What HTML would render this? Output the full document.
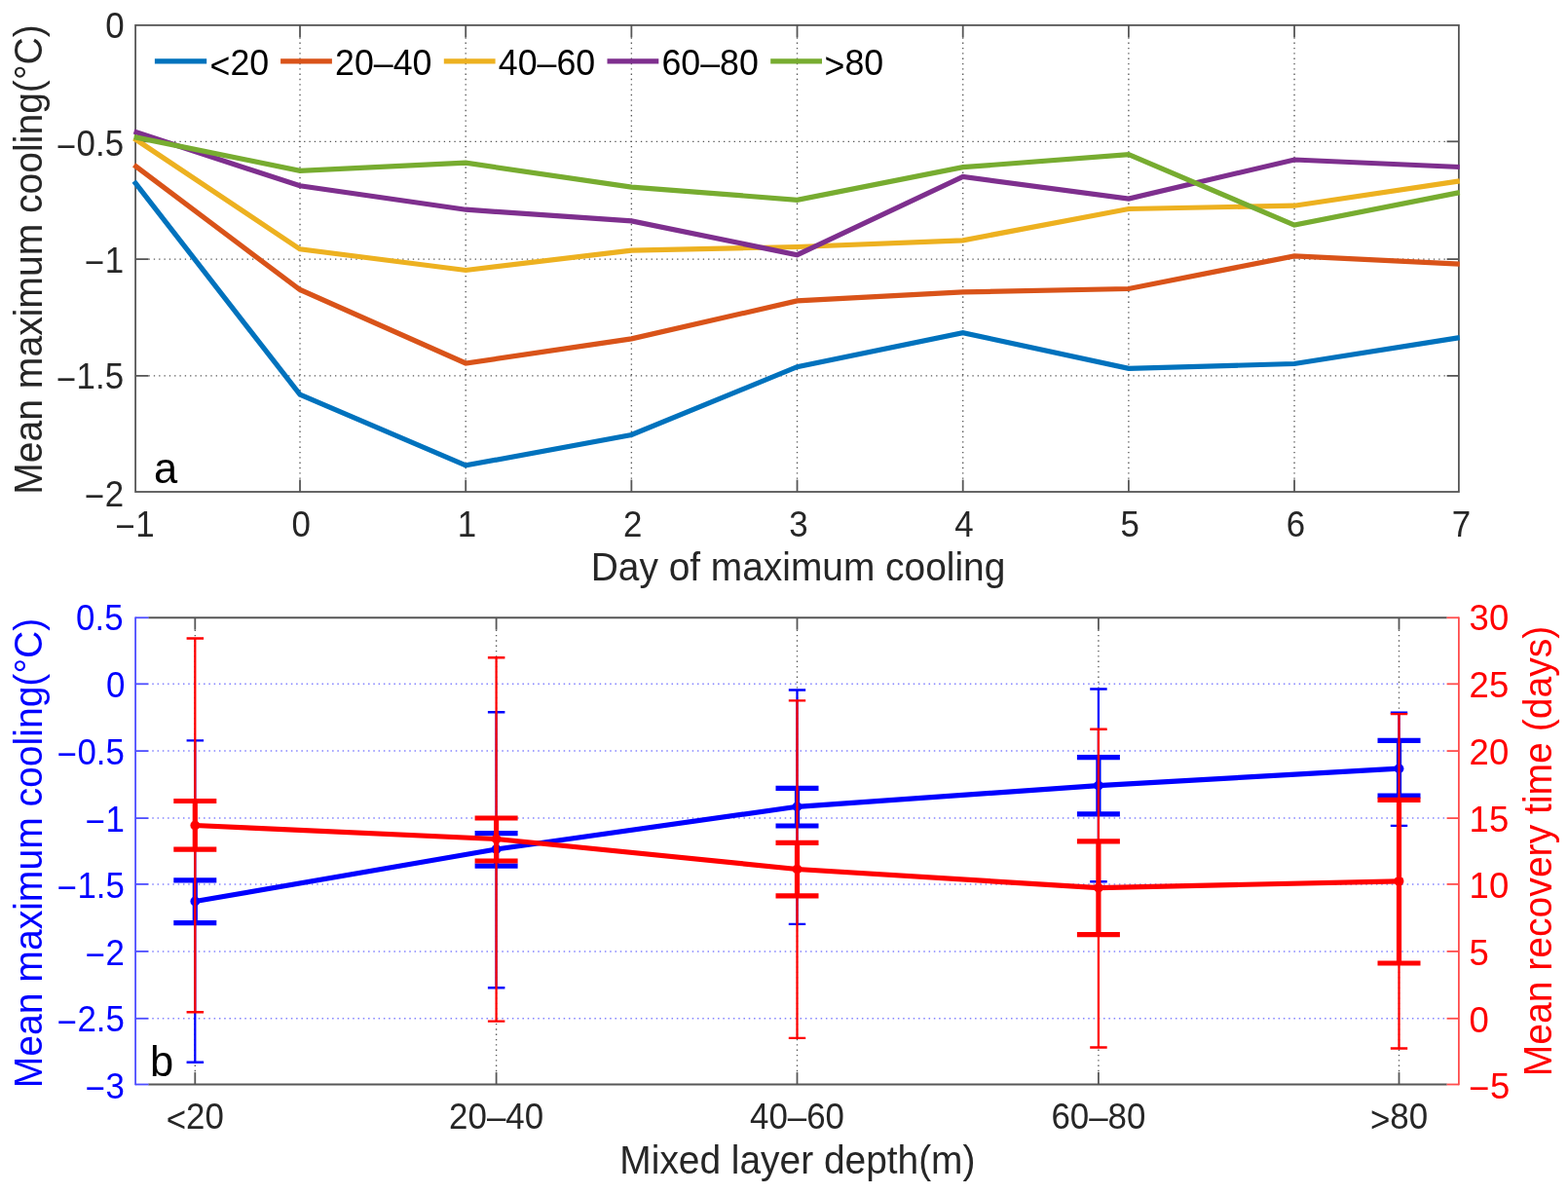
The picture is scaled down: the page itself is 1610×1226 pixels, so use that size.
<!DOCTYPE html>
<html lang="en"><head><meta charset="utf-8"><title>Mean maximum cooling and recovery time</title>
<style>
html,body{margin:0;padding:0;background:#fff;}
body{width:1610px;height:1226px;overflow:hidden;}
svg{display:block;filter:blur(0.6px);}
</style></head><body>
<svg width="1610" height="1226" viewBox="0 0 1610 1226">
<rect width="1610" height="1226" fill="#fff"/>
<g font-family="'Liberation Sans', Arial, Helvetica, sans-serif">
<g stroke="#585858" stroke-width="1.35" stroke-dasharray="1.35 3.97" fill="none">
<line x1="308.02" y1="38.30" x2="308.02" y2="492.60"/>
<line x1="478.19" y1="38.30" x2="478.19" y2="492.60"/>
<line x1="648.36" y1="38.30" x2="648.36" y2="492.60"/>
<line x1="818.53" y1="38.30" x2="818.53" y2="492.60"/>
<line x1="988.70" y1="38.30" x2="988.70" y2="492.60"/>
<line x1="1158.87" y1="38.30" x2="1158.87" y2="492.60"/>
<line x1="1329.04" y1="38.30" x2="1329.04" y2="492.60"/>
<line x1="152.50" y1="145.30" x2="1485.60" y2="145.30"/>
<line x1="152.50" y1="266.10" x2="1485.60" y2="266.10"/>
<line x1="152.50" y1="385.90" x2="1485.60" y2="385.90"/>
</g>
<g stroke="#565656" stroke-width="1.8" fill="none">
<rect x="139.1" y="25.9" width="1358.80" height="479.10"/>
<line x1="308.02" y1="505.0" x2="308.02" y2="492.60"/>
<line x1="308.02" y1="25.9" x2="308.02" y2="38.30"/>
<line x1="478.19" y1="505.0" x2="478.19" y2="492.60"/>
<line x1="478.19" y1="25.9" x2="478.19" y2="38.30"/>
<line x1="648.36" y1="505.0" x2="648.36" y2="492.60"/>
<line x1="648.36" y1="25.9" x2="648.36" y2="38.30"/>
<line x1="818.53" y1="505.0" x2="818.53" y2="492.60"/>
<line x1="818.53" y1="25.9" x2="818.53" y2="38.30"/>
<line x1="988.70" y1="505.0" x2="988.70" y2="492.60"/>
<line x1="988.70" y1="25.9" x2="988.70" y2="38.30"/>
<line x1="1158.87" y1="505.0" x2="1158.87" y2="492.60"/>
<line x1="1158.87" y1="25.9" x2="1158.87" y2="38.30"/>
<line x1="1329.04" y1="505.0" x2="1329.04" y2="492.60"/>
<line x1="1329.04" y1="25.9" x2="1329.04" y2="38.30"/>
<line x1="139.1" y1="145.30" x2="152.50" y2="145.30"/>
<line x1="1497.9" y1="145.30" x2="1485.60" y2="145.30"/>
<line x1="139.1" y1="266.10" x2="152.50" y2="266.10"/>
<line x1="1497.9" y1="266.10" x2="1485.60" y2="266.10"/>
<line x1="139.1" y1="385.90" x2="152.50" y2="385.90"/>
<line x1="1497.9" y1="385.90" x2="1485.60" y2="385.90"/>
</g>
<g fill="none" stroke-width="5.2" stroke-linejoin="miter">
<polyline stroke="#0072BD" points="137.6,186.1 308.0,405.2 478.2,477.9 648.4,446.5 818.5,376.7 988.7,341.7 1158.9,378.4 1329.0,373.5 1498.8,346.6"/>
<polyline stroke="#D95319" points="137.6,169.4 308.0,297.5 478.2,373.0 648.4,347.9 818.5,308.9 988.7,299.9 1158.9,296.5 1329.0,262.9 1498.8,271.1"/>
<polyline stroke="#EDB120" points="137.6,142.0 308.0,255.8 478.2,277.5 648.4,257.2 818.5,253.5 988.7,246.8 1158.9,214.5 1329.0,211.2 1498.8,185.9"/>
<polyline stroke="#7E2F8E" points="137.6,135.0 308.0,190.8 478.2,215.2 648.4,226.9 818.5,261.7 988.7,181.4 1158.9,204.0 1329.0,164.0 1498.8,171.5"/>
<polyline stroke="#77AC30" points="137.6,140.6 308.0,175.4 478.2,167.2 648.4,192.1 818.5,205.3 988.7,171.7 1158.9,158.6 1329.0,231.1 1498.8,197.6"/>
</g>
<line x1="158.9" y1="62.9" x2="212.2" y2="62.9" stroke="#0072BD" stroke-width="5.2"/>
<text transform="translate(215.60,77.20) scale(0.963,1)" font-size="37.1" fill="#000"><tspan dy="3">&lt;</tspan><tspan dy="-3">20</tspan></text>
<line x1="288.1" y1="62.9" x2="340.9" y2="62.9" stroke="#D95319" stroke-width="5.2"/>
<text transform="translate(344.10,77.20) scale(0.963,1)" font-size="37.1" fill="#000">20–40</text>
<line x1="455.8" y1="62.9" x2="508.6" y2="62.9" stroke="#EDB120" stroke-width="5.2"/>
<text transform="translate(511.80,77.20) scale(0.963,1)" font-size="37.1" fill="#000">40–60</text>
<line x1="623.5" y1="62.9" x2="676.3" y2="62.9" stroke="#7E2F8E" stroke-width="5.2"/>
<text transform="translate(679.50,77.20) scale(0.963,1)" font-size="37.1" fill="#000">60–80</text>
<line x1="791.2" y1="62.9" x2="844.0" y2="62.9" stroke="#77AC30" stroke-width="5.2"/>
<text transform="translate(846.60,77.20) scale(0.963,1)" font-size="37.1" fill="#000"><tspan dy="3">&gt;</tspan><tspan dy="-3">80</tspan></text>
<g font-size="37.1" fill="#262626">
<text transform="translate(127.60,38.50) scale(0.94,1)" font-size="37.1" text-anchor="end">0</text>
<text transform="translate(127.60,159.60) scale(0.94,1)" font-size="37.1" text-anchor="end"><tspan dy="3.0" dx="-0.6">−</tspan><tspan dy="-3.0" dx="0.6">0.5</tspan></text>
<text transform="translate(127.60,279.60) scale(0.94,1)" font-size="37.1" text-anchor="end"><tspan dy="2.1" dx="-0.6">−</tspan><tspan dy="-2.1" dx="0.6">1</tspan></text>
<text transform="translate(127.60,399.40) scale(0.94,1)" font-size="37.1" text-anchor="end"><tspan dy="2.1" dx="-0.6">−</tspan><tspan dy="-2.1" dx="0.6">1.5</tspan></text>
<text transform="translate(127.60,519.70) scale(0.94,1)" font-size="37.1" text-anchor="end"><tspan dy="2.1" dx="-0.6">−</tspan><tspan dy="-2.1" dx="0.6">2</tspan></text>
<text transform="translate(139.00,550.90) scale(0.94,1)" font-size="37.1" text-anchor="middle"><tspan dy="2.1" dx="-0.6">−</tspan><tspan dy="-2.1" dx="0.6">1</tspan></text>
<text transform="translate(309.32,550.90) scale(0.94,1)" font-size="37.1" text-anchor="middle">0</text>
<text transform="translate(479.49,550.90) scale(0.94,1)" font-size="37.1" text-anchor="middle">1</text>
<text transform="translate(649.66,550.90) scale(0.94,1)" font-size="37.1" text-anchor="middle">2</text>
<text transform="translate(819.83,550.90) scale(0.94,1)" font-size="37.1" text-anchor="middle">3</text>
<text transform="translate(990.00,550.90) scale(0.94,1)" font-size="37.1" text-anchor="middle">4</text>
<text transform="translate(1160.17,550.90) scale(0.94,1)" font-size="37.1" text-anchor="middle">5</text>
<text transform="translate(1330.34,550.90) scale(0.94,1)" font-size="37.1" text-anchor="middle">6</text>
<text transform="translate(1500.40,550.90) scale(0.94,1)" font-size="37.1" text-anchor="middle">7</text>
</g>
<text transform="translate(819.5,596.4) scale(0.977,1)" font-size="39.8" fill="#262626" text-anchor="middle">Day of maximum cooling</text>
<text transform="translate(43,266.5) rotate(-90) scale(0.9818849999999999,1)" font-size="39.8" fill="#262626" text-anchor="middle">Mean maximum cooling(°C)</text>
<text transform="translate(158.00,495.90)" font-size="43.5" fill="#000">a</text>
<g stroke="#585858" stroke-width="1.35" stroke-dasharray="1.35 3.97" fill="none">
<line x1="200.30" y1="646.65" x2="200.30" y2="1101.10"/>
<line x1="509.60" y1="646.65" x2="509.60" y2="1101.10"/>
<line x1="818.50" y1="646.65" x2="818.50" y2="1101.10"/>
<line x1="1127.90" y1="646.65" x2="1127.90" y2="1101.10"/>
<line x1="1436.50" y1="646.65" x2="1436.50" y2="1101.10"/>
</g>
<g stroke="#8282ff" stroke-width="1.5" stroke-dasharray="1.5 3.78" stroke-dashoffset="1.5" fill="none">
<line x1="152.50" y1="702.30" x2="1485.60" y2="702.30"/>
<line x1="152.50" y1="771.10" x2="1485.60" y2="771.10"/>
<line x1="152.50" y1="840.10" x2="1485.60" y2="840.10"/>
<line x1="152.50" y1="907.90" x2="1485.60" y2="907.90"/>
<line x1="152.50" y1="976.90" x2="1485.60" y2="976.90"/>
<line x1="152.50" y1="1045.80" x2="1485.60" y2="1045.80"/>
</g>
<g stroke="#565656" stroke-width="1.8" fill="none">
<line x1="152.29999999999998" y1="634.25" x2="1485.7" y2="634.25"/>
<line x1="152.29999999999998" y1="1113.5" x2="1485.7" y2="1113.5"/>
<line x1="200.30" y1="1113.5" x2="200.30" y2="1101.10"/>
<line x1="200.30" y1="634.25" x2="200.30" y2="646.65"/>
<line x1="509.60" y1="1113.5" x2="509.60" y2="1101.10"/>
<line x1="509.60" y1="634.25" x2="509.60" y2="646.65"/>
<line x1="818.50" y1="1113.5" x2="818.50" y2="1101.10"/>
<line x1="818.50" y1="634.25" x2="818.50" y2="646.65"/>
<line x1="1127.90" y1="1113.5" x2="1127.90" y2="1101.10"/>
<line x1="1127.90" y1="634.25" x2="1127.90" y2="646.65"/>
<line x1="1436.50" y1="1113.5" x2="1436.50" y2="1101.10"/>
<line x1="1436.50" y1="634.25" x2="1436.50" y2="646.65"/>
</g>
<g stroke="#4d4dff" stroke-width="1.8" fill="none">
<line x1="139.1" y1="633.4" x2="139.1" y2="1114.35"/>
<line x1="139.1" y1="634.25" x2="152.50" y2="634.25"/>
<line x1="139.1" y1="702.30" x2="152.50" y2="702.30"/>
<line x1="139.1" y1="771.10" x2="152.50" y2="771.10"/>
<line x1="139.1" y1="840.10" x2="152.50" y2="840.10"/>
<line x1="139.1" y1="907.90" x2="152.50" y2="907.90"/>
<line x1="139.1" y1="976.90" x2="152.50" y2="976.90"/>
<line x1="139.1" y1="1045.80" x2="152.50" y2="1045.80"/>
<line x1="139.1" y1="1113.50" x2="152.50" y2="1113.50"/>
</g>
<g stroke="#ff4d4d" stroke-width="1.8" fill="none">
<line x1="1497.9" y1="633.4" x2="1497.9" y2="1114.35"/>
<line x1="1497.9" y1="634.25" x2="1485.60" y2="634.25"/>
<line x1="1497.9" y1="702.30" x2="1485.60" y2="702.30"/>
<line x1="1497.9" y1="771.10" x2="1485.60" y2="771.10"/>
<line x1="1497.9" y1="840.10" x2="1485.60" y2="840.10"/>
<line x1="1497.9" y1="907.90" x2="1485.60" y2="907.90"/>
<line x1="1497.9" y1="976.90" x2="1485.60" y2="976.90"/>
<line x1="1497.9" y1="1045.80" x2="1485.60" y2="1045.80"/>
<line x1="1497.9" y1="1113.50" x2="1485.60" y2="1113.50"/>
</g>
<path d="M200.3 760.4V1090.8" stroke="#0000FF" stroke-width="2.25" fill="none"/>
<path d="M191.6 760.4H209.1M191.6 1090.8H209.1" stroke="#0000FF" stroke-width="2.4" fill="none"/>
<path d="M509.6 731.3V1014.2" stroke="#0000FF" stroke-width="2.25" fill="none"/>
<path d="M500.9 731.3H518.4M500.9 1014.2H518.4" stroke="#0000FF" stroke-width="2.4" fill="none"/>
<path d="M818.5 708.5V948.9" stroke="#0000FF" stroke-width="2.25" fill="none"/>
<path d="M809.8 708.5H827.2M809.8 948.9H827.2" stroke="#0000FF" stroke-width="2.4" fill="none"/>
<path d="M1127.9 707.5V905.3" stroke="#0000FF" stroke-width="2.25" fill="none"/>
<path d="M1119.2 707.5H1136.7M1119.2 905.3H1136.7" stroke="#0000FF" stroke-width="2.4" fill="none"/>
<path d="M1436.5 731.7V847.9" stroke="#0000FF" stroke-width="2.25" fill="none"/>
<path d="M1427.8 731.7H1445.2M1427.8 847.9H1445.2" stroke="#0000FF" stroke-width="2.4" fill="none"/>
<path d="M200.3 903.9V947.6" stroke="#0000FF" stroke-width="5.2" fill="none"/>
<path d="M178.3 903.9H222.3M178.3 947.6H222.3" stroke="#0000FF" stroke-width="5.2" fill="none"/>
<path d="M509.6 855.7V889.2" stroke="#0000FF" stroke-width="5.2" fill="none"/>
<path d="M487.6 855.7H531.6M487.6 889.2H531.6" stroke="#0000FF" stroke-width="5.2" fill="none"/>
<path d="M818.5 809.4V848.0" stroke="#0000FF" stroke-width="5.2" fill="none"/>
<path d="M796.5 809.4H840.5M796.5 848.0H840.5" stroke="#0000FF" stroke-width="5.2" fill="none"/>
<path d="M1127.9 777.6V835.8" stroke="#0000FF" stroke-width="5.2" fill="none"/>
<path d="M1105.9 777.6H1149.9M1105.9 835.8H1149.9" stroke="#0000FF" stroke-width="5.2" fill="none"/>
<path d="M1436.5 760.4V817.2" stroke="#0000FF" stroke-width="5.2" fill="none"/>
<path d="M1414.5 760.4H1458.5M1414.5 817.2H1458.5" stroke="#0000FF" stroke-width="5.2" fill="none"/>
<polyline points="200.3,925.5 509.6,872.0 818.5,828.3 1127.9,806.6 1436.5,789.2" stroke="#0000FF" stroke-width="5.2" fill="none"/>
<circle cx="200.3" cy="925.5" r="4.9" fill="#0000FF"/>
<circle cx="509.6" cy="872.0" r="4.9" fill="#0000FF"/>
<circle cx="818.5" cy="828.3" r="4.9" fill="#0000FF"/>
<circle cx="1127.9" cy="806.6" r="4.9" fill="#0000FF"/>
<circle cx="1436.5" cy="789.2" r="4.9" fill="#0000FF"/>
<path d="M200.3 655.5V1039.2" stroke="#FF0000" stroke-width="2.25" fill="none"/>
<path d="M191.6 655.5H209.1M191.6 1039.2H209.1" stroke="#FF0000" stroke-width="2.4" fill="none"/>
<path d="M509.6 675.3V1048.6" stroke="#FF0000" stroke-width="2.25" fill="none"/>
<path d="M500.9 675.3H518.4M500.9 1048.6H518.4" stroke="#FF0000" stroke-width="2.4" fill="none"/>
<path d="M818.5 719.4V1065.9" stroke="#FF0000" stroke-width="2.25" fill="none"/>
<path d="M809.8 719.4H827.2M809.8 1065.9H827.2" stroke="#FF0000" stroke-width="2.4" fill="none"/>
<path d="M1127.9 748.7V1075.5" stroke="#FF0000" stroke-width="2.25" fill="none"/>
<path d="M1119.2 748.7H1136.7M1119.2 1075.5H1136.7" stroke="#FF0000" stroke-width="2.4" fill="none"/>
<path d="M1436.5 733.1V1076.5" stroke="#FF0000" stroke-width="2.25" fill="none"/>
<path d="M1427.8 733.1H1445.2M1427.8 1076.5H1445.2" stroke="#FF0000" stroke-width="2.4" fill="none"/>
<path d="M200.3 822.5V872.1" stroke="#FF0000" stroke-width="5.2" fill="none"/>
<path d="M178.3 822.5H222.3M178.3 872.1H222.3" stroke="#FF0000" stroke-width="5.2" fill="none"/>
<path d="M509.6 840.0V884.0" stroke="#FF0000" stroke-width="5.2" fill="none"/>
<path d="M487.6 840.0H531.6M487.6 884.0H531.6" stroke="#FF0000" stroke-width="5.2" fill="none"/>
<path d="M818.5 865.3V919.8" stroke="#FF0000" stroke-width="5.2" fill="none"/>
<path d="M796.5 865.3H840.5M796.5 919.8H840.5" stroke="#FF0000" stroke-width="5.2" fill="none"/>
<path d="M1127.9 863.9V959.7" stroke="#FF0000" stroke-width="5.2" fill="none"/>
<path d="M1105.9 863.9H1149.9M1105.9 959.7H1149.9" stroke="#FF0000" stroke-width="5.2" fill="none"/>
<path d="M1436.5 821.3V989.0" stroke="#FF0000" stroke-width="5.2" fill="none"/>
<path d="M1414.5 821.3H1458.5M1414.5 989.0H1458.5" stroke="#FF0000" stroke-width="5.2" fill="none"/>
<polyline points="200.3,847.5 509.6,861.5 818.5,892.5 1127.9,911.6 1436.5,904.8" stroke="#FF0000" stroke-width="5.2" fill="none"/>
<circle cx="200.3" cy="847.5" r="4.9" fill="#FF0000"/>
<circle cx="509.6" cy="861.5" r="4.9" fill="#FF0000"/>
<circle cx="818.5" cy="892.5" r="4.9" fill="#FF0000"/>
<circle cx="1127.9" cy="911.6" r="4.9" fill="#FF0000"/>
<circle cx="1436.5" cy="904.8" r="4.9" fill="#FF0000"/>
<g font-size="37.1" fill="#0000FF">
<text transform="translate(126.60,647.25) scale(0.94,1)" font-size="37.1" text-anchor="end">0.5</text>
<text transform="translate(128.50,715.90) scale(0.94,1)" font-size="37.1" text-anchor="end">0</text>
<text transform="translate(128.50,784.70) scale(0.94,1)" font-size="37.1" text-anchor="end"><tspan dy="2.1" dx="-0.6">−</tspan><tspan dy="-2.1" dx="0.6">0.5</tspan></text>
<text transform="translate(128.50,853.70) scale(0.94,1)" font-size="37.1" text-anchor="end"><tspan dy="2.1" dx="-0.6">−</tspan><tspan dy="-2.1" dx="0.6">1</tspan></text>
<text transform="translate(128.50,921.50) scale(0.94,1)" font-size="37.1" text-anchor="end"><tspan dy="2.1" dx="-0.6">−</tspan><tspan dy="-2.1" dx="0.6">1.5</tspan></text>
<text transform="translate(128.50,990.50) scale(0.94,1)" font-size="37.1" text-anchor="end"><tspan dy="2.1" dx="-0.6">−</tspan><tspan dy="-2.1" dx="0.6">2</tspan></text>
<text transform="translate(128.50,1059.40) scale(0.94,1)" font-size="37.1" text-anchor="end"><tspan dy="2.1" dx="-0.6">−</tspan><tspan dy="-2.1" dx="0.6">2.5</tspan></text>
<text transform="translate(128.50,1127.70) scale(0.94,1)" font-size="37.1" text-anchor="end"><tspan dy="2.1" dx="-0.6">−</tspan><tspan dy="-2.1" dx="0.6">3</tspan></text>
</g>
<g font-size="37.1" fill="#FF0000">
<text transform="translate(1508.60,647.45) scale(0.985,1)" font-size="37.1">30</text>
<text transform="translate(1508.60,716.10) scale(0.985,1)" font-size="37.1">25</text>
<text transform="translate(1508.60,784.90) scale(0.985,1)" font-size="37.1">20</text>
<text transform="translate(1508.60,853.90) scale(0.985,1)" font-size="37.1">15</text>
<text transform="translate(1508.60,921.70) scale(0.985,1)" font-size="37.1">10</text>
<text transform="translate(1508.60,990.70) scale(0.985,1)" font-size="37.1">5</text>
<text transform="translate(1508.60,1059.60) scale(0.985,1)" font-size="37.1">0</text>
<text transform="translate(1508.60,1127.90) scale(0.985,1)" font-size="37.1"><tspan dy="2.1" dx="-0.6">−</tspan><tspan dy="-2.1" dx="0.6">5</tspan></text>
</g>
<g font-size="37.1" fill="#262626" text-anchor="middle">
<text transform="translate(200.30,1159.00) scale(0.94,1)" font-size="37.1" text-anchor="middle"><tspan dy="3">&lt;</tspan><tspan dy="-3">20</tspan></text>
<text transform="translate(509.60,1159.00) scale(0.94,1)" font-size="37.1" text-anchor="middle">20–40</text>
<text transform="translate(818.50,1159.00) scale(0.94,1)" font-size="37.1" text-anchor="middle">40–60</text>
<text transform="translate(1127.90,1159.00) scale(0.94,1)" font-size="37.1" text-anchor="middle">60–80</text>
<text transform="translate(1436.50,1159.00) scale(0.94,1)" font-size="37.1" text-anchor="middle"><tspan dy="3">&gt;</tspan><tspan dy="-3">80</tspan></text>
</g>
<text transform="translate(818.9,1205) scale(0.977,1)" font-size="39.8" fill="#262626" text-anchor="middle">Mixed layer depth(m)</text>
<text transform="translate(43,876.0) rotate(-90) scale(0.9818849999999999,1)" font-size="39.8" fill="#0000FF" text-anchor="middle">Mean maximum cooling(°C)</text>
<text transform="translate(1593,874) rotate(-90) scale(0.9818849999999999,1)" font-size="39.8" fill="#FF0000" text-anchor="middle">Mean recovery time (days)</text>
<text transform="translate(154.00,1105.00)" font-size="43.5" fill="#000">b</text>
</g></svg>
</body></html>
